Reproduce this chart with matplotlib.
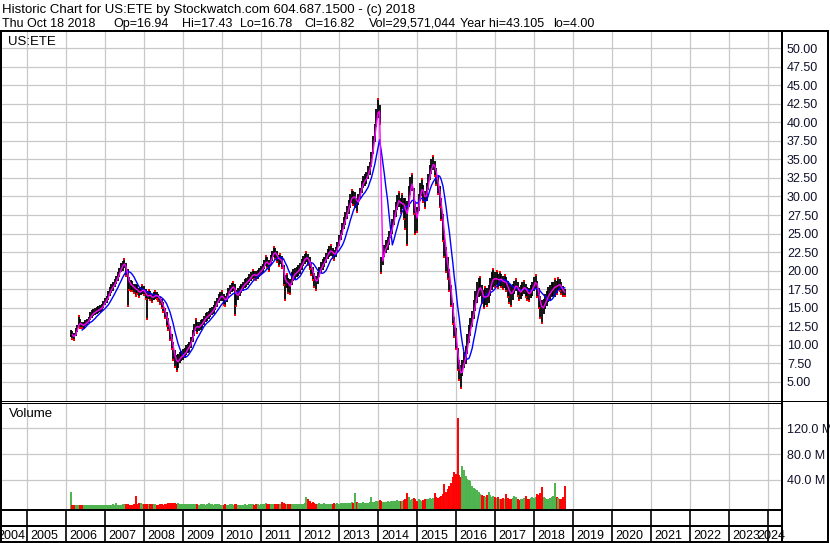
import matplotlib
matplotlib.use("Agg")
import matplotlib.pyplot as plt
from matplotlib.lines import Line2D
import numpy as np
import pandas as pd

W, H = 830, 543
plt.rcParams["font.family"] = ["Liberation Sans", "DejaVu Sans"]

# semi-monthly samples (1st and 15th), Feb 15 2006 .. Oct 15 2018
close_06 = [11.5, 11.2, 11.0, 11.6, 12.2, 13.0, 12.8, 12.6, 12.6, 12.9, 13.0, 13.3, 13.8, 14.1, 14.3, 14.4, 14.6, 14.7, 14.8, 15.0, 15.4]
low_06 = [11.0, 10.8, 10.7, 11.2, 11.7, 12.3, 12.3, 12.2, 12.1, 12.5, 12.6, 12.9, 13.3, 13.6, 13.9, 14.0, 14.2, 14.3, 14.4, 14.6, 14.9]
high_06 = [12.0, 11.8, 11.6, 12.2, 12.6, 13.9, 13.5, 13.1, 13.0, 13.3, 13.5, 13.8, 14.4, 14.7, 14.8, 14.9, 15.1, 15.2, 15.3, 15.5, 15.9]

close_07 = [15.8, 16.1, 16.6, 17.2, 17.6, 17.8, 18.3, 18.7, 19.2, 19.8, 20.4, 20.8, 21.0, 20.2, 19.0, 18.3, 18.0, 17.9, 17.6, 17.5, 17.3, 17.0, 17.2, 17.4]
low_07 = [15.3, 15.6, 16.0, 16.6, 17.0, 17.2, 17.8, 18.2, 18.6, 19.2, 19.8, 20.0, 20.3, 19.3, 15.2, 17.4, 17.3, 17.2, 17.0, 16.6, 16.8, 16.4, 16.7, 16.8]
high_07 = [16.3, 16.6, 17.2, 17.8, 18.2, 18.4, 18.8, 19.3, 19.8, 20.4, 21.0, 21.3, 21.6, 21.0, 20.2, 19.2, 18.7, 18.6, 18.2, 18.2, 18.0, 17.6, 17.8, 18.0]

close_08 = [17.3, 16.8, 16.4, 16.8, 16.6, 16.3, 16.5, 16.7, 16.6, 16.4, 16.0, 15.6, 15.0, 14.3, 13.5, 12.8, 11.6, 10.5, 9.3, 8.2, 7.6, 7.8, 8.2, 8.4]
low_08 = [16.7, 16.1, 13.5, 16.2, 16.0, 15.8, 16.0, 16.2, 16.1, 15.9, 15.5, 15.0, 14.4, 13.6, 12.5, 12.0, 10.6, 9.4, 8.0, 7.0, 6.5, 6.8, 7.5, 7.8]
high_08 = [17.9, 17.5, 17.2, 17.4, 17.2, 16.9, 17.1, 17.2, 17.1, 16.9, 16.5, 16.2, 15.7, 15.0, 14.4, 13.6, 12.5, 11.5, 10.4, 9.3, 8.6, 8.8, 9.0, 9.2]

close_09 = [8.6, 8.8, 9.2, 9.5, 9.8, 10.3, 11.2, 12.0, 12.6, 12.3, 12.4, 12.7, 12.9, 13.3, 13.7, 13.8, 14.0, 14.3, 14.5, 14.8, 15.3, 15.7, 16.2, 16.5]
low_09 = [8.0, 8.2, 8.6, 8.9, 9.0, 9.6, 10.4, 11.2, 11.8, 11.6, 11.8, 12.0, 12.2, 12.7, 13.1, 13.2, 13.4, 13.8, 14.0, 14.2, 14.7, 15.1, 15.6, 15.9]
high_09 = [9.4, 9.6, 9.9, 10.1, 10.4, 11.0, 12.0, 12.8, 13.4, 13.0, 13.1, 13.3, 13.5, 13.9, 14.3, 14.4, 14.6, 14.9, 15.1, 15.4, 15.9, 16.3, 16.8, 17.1]

close_10 = [16.6, 16.2, 15.9, 16.4, 17.0, 17.4, 17.7, 17.9, 17.2, 16.5, 16.8, 17.2, 17.6, 17.9, 18.2, 18.4, 18.6, 18.9, 19.2, 19.5, 19.4, 19.3, 19.5, 19.8]
low_10 = [15.9, 15.3, 15.2, 15.8, 16.4, 16.8, 17.1, 17.3, 14.0, 15.2, 16.0, 16.6, 17.0, 17.3, 17.6, 17.8, 18.0, 18.3, 18.6, 18.9, 18.8, 18.7, 18.9, 19.2]
high_10 = [17.2, 16.9, 16.6, 17.0, 17.6, 18.0, 18.3, 18.5, 18.2, 17.4, 17.6, 17.9, 18.2, 18.5, 18.8, 19.0, 19.2, 19.5, 19.8, 20.1, 20.0, 19.9, 20.1, 20.4]

close_11 = [20.0, 20.3, 20.8, 21.3, 21.0, 20.7, 21.4, 22.0, 22.5, 22.3, 21.9, 21.4, 21.6, 21.2, 19.5, 18.3, 18.6, 18.0, 17.8, 18.9, 19.4, 19.6, 19.8, 20.0]
low_11 = [19.4, 19.7, 20.2, 20.6, 20.3, 20.0, 20.7, 21.3, 21.8, 21.6, 21.2, 20.6, 20.9, 20.4, 18.0, 16.0, 17.6, 17.0, 16.8, 18.0, 18.6, 18.8, 19.1, 19.3]
high_11 = [20.6, 20.9, 21.4, 22.0, 21.8, 21.4, 22.1, 22.7, 23.2, 23.0, 22.6, 22.1, 22.3, 22.0, 20.8, 19.4, 19.6, 19.0, 18.8, 19.8, 20.2, 20.4, 20.5, 20.7]

close_12 = [20.3, 20.8, 21.3, 21.6, 21.8, 21.5, 21.0, 20.3, 19.6, 18.8, 18.4, 19.0, 19.8, 20.4, 20.8, 21.2, 21.7, 22.2, 22.6, 22.7, 22.4, 22.1, 22.5, 23.2]
low_12 = [19.6, 20.1, 20.6, 20.9, 21.1, 20.8, 20.2, 19.4, 18.7, 17.8, 17.4, 18.2, 19.1, 19.7, 20.1, 20.5, 21.0, 21.5, 21.9, 22.0, 21.7, 21.4, 21.8, 22.5]
high_12 = [21.0, 21.5, 22.0, 22.3, 22.5, 22.2, 21.8, 21.1, 20.5, 19.7, 19.3, 19.8, 20.5, 21.1, 21.5, 21.9, 22.4, 22.9, 23.3, 23.4, 23.1, 22.8, 23.2, 23.9]

close_13 = [24.0, 24.8, 25.6, 26.4, 27.0, 27.8, 28.6, 29.4, 30.0, 29.8, 30.1, 28.9, 29.6, 30.4, 31.3, 32.0, 32.2, 32.5, 33.2, 33.8, 35.0, 37.0, 38.6, 40.6]
low_13 = [23.3, 24.1, 24.8, 25.6, 26.2, 27.0, 27.7, 28.5, 29.1, 28.9, 28.4, 27.9, 28.8, 29.6, 30.5, 31.2, 31.4, 31.7, 32.3, 32.9, 34.0, 35.8, 37.4, 39.4]
high_13 = [24.8, 25.5, 26.4, 27.2, 27.9, 28.7, 29.5, 30.3, 30.9, 30.7, 30.6, 29.8, 30.4, 31.2, 32.1, 32.8, 33.0, 33.3, 34.1, 34.6, 36.0, 38.2, 39.8, 41.8]

close_14 = [42.0, 41.0, 20.8, 21.8, 22.6, 23.2, 23.6, 24.4, 25.3, 26.0, 27.2, 28.3, 29.2, 29.6, 28.8, 29.3, 28.6, 28.0, 27.4, 30.0, 31.4, 32.0, 29.6, 27.2]
low_14 = [40.6, 39.8, 19.7, 20.8, 21.8, 22.4, 22.8, 23.5, 24.4, 25.0, 26.2, 27.3, 28.2, 28.6, 27.8, 28.3, 27.0, 25.6, 23.4, 28.6, 30.2, 30.8, 27.6, 25.0]
high_14 = [43.2, 42.4, 21.8, 22.8, 23.5, 24.1, 24.5, 25.3, 26.2, 27.0, 28.2, 29.3, 30.2, 30.6, 29.8, 30.3, 29.8, 29.8, 29.4, 31.4, 32.6, 33.1, 31.2, 29.2]

close_15 = [27.0, 29.2, 30.6, 31.2, 30.4, 29.6, 30.6, 32.0, 33.2, 34.0, 34.6, 33.8, 32.8, 31.6, 30.0, 28.4, 26.0, 23.8, 21.6, 20.4, 18.8, 16.6, 14.2, 12.4]
low_15 = [25.2, 28.0, 29.4, 30.0, 29.2, 28.4, 29.4, 30.9, 32.2, 33.0, 33.6, 32.8, 31.6, 30.4, 28.6, 26.8, 24.0, 21.8, 19.8, 18.8, 17.2, 15.2, 12.8, 11.0]
high_15 = [28.6, 30.4, 31.8, 32.4, 31.6, 30.8, 31.8, 33.1, 34.2, 35.0, 35.4, 34.8, 33.8, 32.8, 31.4, 29.8, 27.6, 25.4, 23.2, 21.8, 20.2, 18.0, 15.6, 13.8]

close_16 = [10.8, 8.0, 6.6, 5.8, 6.8, 7.8, 8.6, 10.0, 11.4, 12.4, 13.4, 14.6, 15.8, 17.0, 17.6, 17.8, 16.8, 16.2, 16.6, 16.4, 16.8, 17.8, 18.6, 19.0]
low_16 = [9.4, 6.6, 5.2, 4.2, 5.8, 6.8, 7.4, 8.8, 10.2, 11.2, 12.4, 13.4, 14.6, 15.6, 16.4, 16.6, 15.6, 15.0, 15.4, 15.2, 15.6, 16.6, 17.4, 17.8]
high_16 = [12.2, 9.6, 8.0, 7.2, 8.0, 9.0, 9.8, 11.4, 12.6, 13.6, 14.6, 16.0, 17.2, 18.4, 19.0, 19.2, 18.0, 17.4, 17.8, 17.6, 18.0, 19.0, 19.8, 20.2]

close_17 = [18.8, 19.0, 18.6, 18.9, 18.8, 18.4, 18.6, 18.2, 17.6, 17.0, 16.8, 17.2, 17.8, 18.0, 17.6, 17.0, 17.2, 17.6, 17.8, 17.4, 17.0, 16.8, 17.2, 17.6]
low_17 = [17.8, 18.0, 17.6, 17.9, 17.8, 17.5, 17.6, 17.2, 16.4, 15.6, 15.2, 16.0, 16.8, 17.2, 16.6, 16.0, 16.2, 16.6, 16.8, 16.4, 16.0, 15.9, 16.3, 16.6]
high_17 = [19.8, 20.0, 19.6, 19.8, 19.6, 19.3, 19.4, 19.1, 18.6, 18.2, 18.0, 18.2, 18.6, 18.8, 18.4, 17.8, 18.0, 18.4, 18.6, 18.2, 17.8, 17.6, 18.0, 18.4]

close_18 = [18.2, 18.6, 17.6, 16.4, 15.4, 14.8, 15.2, 15.8, 16.2, 16.8, 17.0, 17.4, 17.6, 17.9, 17.8, 18.2, 18.0, 17.6, 17.2, 17.0]
low_18 = [17.2, 17.6, 16.4, 15.0, 13.6, 12.9, 14.2, 14.8, 15.2, 15.8, 16.0, 16.4, 16.6, 16.4, 16.9, 17.4, 17.2, 16.9, 16.6, 16.6]
high_18 = [19.2, 19.4, 18.6, 17.6, 16.6, 16.0, 16.2, 16.8, 17.2, 17.8, 18.0, 18.4, 18.4, 18.8, 18.6, 19.0, 18.8, 18.4, 17.9, 17.5]

# volume, millions of shares
vol_06 = [22, 1, 1, 0.8, 1, 1.2, 0.8, 0.6, 0.8, 0.6, 0.5, 0.8, 0.6, 0.5, 0.8, 0.6, 0.5, 0.8, 0.6, 0.8, 0.5]
vol_07 = [1, 1, 1.5, 1, 1.5, 2, 1.5, 5, 1.5, 1, 1.5, 2, 2.5, 2, 2.5, 1.5, 1, 1.5, 2, 14.5, 3, 5, 4, 3]
vol_08 = [2, 2.5, 3, 3, 2.5, 3, 2, 2, 1.5, 1.5, 2, 2, 1.5, 2, 2.5, 4, 4, 4.5, 4, 4, 3.5, 4, 3.5, 3]
vol_09 = [3.5, 3, 2.5, 3, 2.5, 2, 2, 2.5, 2, 2, 1.5, 2, 2.5, 2, 1.5, 2, 4, 2.5, 2, 1.5, 2, 3, 2, 1.5]
vol_10 = [1.5, 1.5, 2, 1.5, 1.5, 2, 2, 1.5, 3, 2, 1.5, 1.5, 1, 1.5, 2, 1.5, 1.5, 2, 3.5, 2, 1.5, 2, 2.5, 1.5]
vol_11 = [2, 2, 2.5, 4.5, 3, 2.5, 2, 2, 2.5, 2.5, 3, 3, 3.5, 5.5, 4, 3, 3, 2.5, 2.5, 2, 2.5, 2, 3, 2.5]
vol_12 = [3, 3.5, 3, 4, 13, 10, 7, 5, 6, 4.5, 3.5, 3, 4, 3, 3.5, 4, 3, 2.5, 3, 3.5, 3, 4, 3.5, 4]
vol_13 = [3, 4, 4.5, 5, 4, 5, 4.5, 5, 6, 5, 20, 6, 5, 4.5, 5, 5.5, 5, 4, 5, 6, 14, 6, 5.5, 7]
vol_14 = [8, 9, 7, 6, 6.5, 6, 7, 6, 7, 8, 7, 8, 9, 8, 7, 8, 9, 10, 20, 13, 9, 10, 12, 11]
vol_15 = [8, 10, 9, 8, 9, 10, 11, 10, 12, 11, 12, 20, 13, 12, 14, 15, 18, 34, 22, 26, 30, 35, 45, 52]
vol_16 = [50, 136, 48, 44, 62, 55, 46, 42, 40, 38, 30, 28, 26, 24, 22, 18, 16, 15, 14, 17, 22, 16, 14, 15]
vol_17 = [14, 12, 13, 11, 10, 12, 11, 18, 12, 10, 11, 12, 15, 13, 10, 9, 11, 10, 12, 15, 11, 10, 12, 13]
vol_18 = [12, 14, 18, 16, 20, 29, 14, 12, 11, 10, 12, 13, 15, 36, 14, 12, 11, 10, 13, 31]

years = list(range(2004, 2025))
price_ticks = [5.0, 7.5, 10.0, 12.5, 15.0, 17.5, 20.0, 22.5, 25.0, 27.5, 30.0,
               32.5, 35.0, 37.5, 40.0, 42.5, 45.0, 47.5, 50.0]
vol_ticks = [40, 80, 120]

header_1 = "Historic Chart for US:ETE by Stockwatch.com 604.687.1500 - (c) 2018"
header_2 = ["Thu Oct 18 2018", "Op=16.94", "Hi=17.43", "Lo=16.78", "Cl=16.82",
            "Vol=29,571,044", "Year hi=43.105", "lo=4.00"]
header_2_px = [2, 113, 182, 240, 304, 369, 460, 553]

close = np.array(close_06 + close_07 + close_08 + close_09 + close_10 + close_11 + close_12
                 + close_13 + close_14 + close_15 + close_16 + close_17 + close_18)
low = np.array(low_06 + low_07 + low_08 + low_09 + low_10 + low_11 + low_12
               + low_13 + low_14 + low_15 + low_16 + low_17 + low_18)
high = np.array(high_06 + high_07 + high_08 + high_09 + high_10 + high_11 + high_12
                + high_13 + high_14 + high_15 + high_16 + high_17 + high_18)
vol = np.array(vol_06 + vol_07 + vol_08 + vol_09 + vol_10 + vol_11 + vol_12
               + vol_13 + vol_14 + vol_15 + vol_16 + vol_17 + vol_18, dtype=float)

dates = pd.date_range("2006-02-15", periods=len(close), freq="SMS")
days = np.where(dates.is_leap_year, 366, 365)
x = np.asarray(dates.year + (dates.dayofyear - 0.5) / days, dtype=float)

ma_short = pd.Series(close).rolling(2).mean()
ma_long = pd.Series(close).rolling(8).mean()
up = np.r_[True, np.diff(close) >= 0]

XMIN, XMAX = 2004.36, 2024.36
GRID = "#c8c8c8"
TXT = "#10102a"


def box(x0, y0, x1, y1):
    return [x0 / W, 1 - y1 / H, (x1 - x0) / W, (y1 - y0) / H]


def fline(x0, y0, x1, y1, px=1.0):
    fig.add_artist(Line2D([x0 / W, x1 / W], [1 - y0 / H, 1 - y1 / H],
                          color="black", lw=px * 0.72, zorder=10,
                          solid_capstyle="butt"))


fig = plt.figure(figsize=(W / 100, H / 100), dpi=100)
fig.patch.set_facecolor("white")

ax_p = fig.add_axes(box(2, 32, 782, 401))
ax_v = fig.add_axes(box(2, 403, 782, 509))
ax_b = fig.add_axes(box(2, 509, 782, 542))

for ax in (ax_p, ax_v, ax_b):
    ax.set_xlim(XMIN, XMAX)
    for s in ax.spines.values():
        s.set_visible(False)
    ax.set_xticks([])

# price panel
ax_p.set_ylim(2.40, 52.2)
for yr in years:
    ax_p.axvline(yr, color=GRID, lw=0.9, zorder=0)
for t in price_ticks:
    ax_p.axhline(t, color=GRID, lw=0.9, zorder=0)

ax_p.vlines(x, low, high, color="black", lw=1.3, zorder=2)
# red marks: bar lows on down closes, bar highs at local peaks
down = ~up
hi_ext = np.r_[False, (high[1:-1] > high[:-2]) & (high[1:-1] > high[2:]), False]
ax_p.plot(x[down], low[down], "s", color="red", ms=1.5, mew=0, zorder=3)
ax_p.plot(x[hi_ext], high[hi_ext], "s", color="red", ms=1.5, mew=0, zorder=3)
ax_p.plot(x, ma_long, color="#0000ff", lw=1.0, zorder=4)
ax_p.plot(x, ma_short, color="#ff00ff", lw=1.0, zorder=5)

ax_p.yaxis.tick_right()
ax_p.set_yticks(price_ticks)
ax_p.set_yticklabels([f"{t:.2f}" for t in price_ticks])
ax_p.tick_params(axis="y", length=0, pad=3.6, labelsize=9, labelcolor=TXT)
ax_p.text(0.0077, 1 - 13 / 369, "US:ETE", transform=ax_p.transAxes,
          fontsize=9.5, va="baseline", ha="left")

# volume panel
VMIN, VMAX = -5.0, 159.4
ax_v.set_ylim(VMIN, VMAX)
for yr in years:
    ax_v.axvline(yr, color=GRID, lw=0.9, zorder=0)
for t in vol_ticks:
    ax_v.axhline(t, color=GRID, lw=0.9, zorder=0)
colors = ["#4cb34c" if u else "#ff0000" for u in up]
ax_v.vlines(x, VMIN, vol, colors=colors, lw=1.4, zorder=2)
ax_v.yaxis.tick_right()
ax_v.set_yticks(vol_ticks)
ax_v.set_yticklabels([f"{t:.1f} M" for t in vol_ticks])
ax_v.tick_params(axis="y", length=0, pad=3.6, labelsize=9, labelcolor=TXT)
ax_v.text(0.009, 1 - 14 / 106, "Volume", transform=ax_v.transAxes,
          fontsize=9.5, va="baseline", ha="left")

# year strip
ax_b.set_ylim(0, 1)
ax_b.set_yticks([])
for yr in years:
    ax_b.axvline(yr, color="black", lw=1.2, zorder=2)
ax_b.axhline(16 / 33, color="black", lw=1.44, zorder=2)
for yr in years:
    if yr == 2004:
        ax_b.text(2005 - 1.5 / 39, 3 / 33, str(yr), fontsize=9, ha="right", va="baseline")
    elif yr == 2024:
        ax_b.text(2024 - 10.5 / 39, 3 / 33, str(yr), fontsize=9, ha="left", va="baseline")
    else:
        ax_b.text(yr + 3 / 39, 3 / 33, str(yr), fontsize=9, ha="left", va="baseline")

# header
fig.text(2 / W, 1 - 13 / H, header_1, fontsize=9.5, ha="left", va="baseline")
for label, px in zip(header_2, header_2_px):
    fig.text(px / W, 1 - 27 / H, label, fontsize=9, ha="left", va="baseline")

# frame lines
fline(0, 31, 829, 31, 2)
fline(1, 31, 1, 543, 2)
fline(0, 400.5, 828, 400.5, 1)
fline(0, 402.5, 782, 402.5, 1)
fline(0, 509.5, 782, 509.5, 2)
fline(782, 30, 782, 543, 2)
fline(827.5, 30, 827.5, 543, 2)
fline(0, 542, 829, 542, 2)

fig.savefig("out.png", dpi=100, facecolor="white")
